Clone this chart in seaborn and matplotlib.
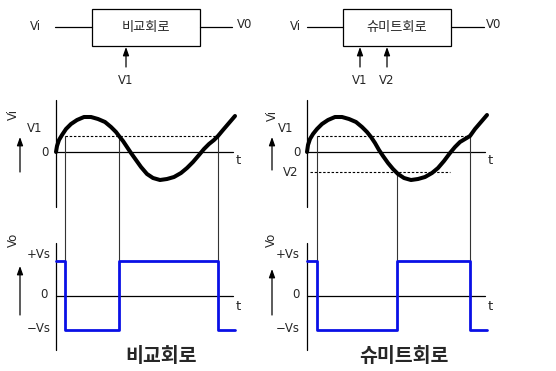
import numpy as np
import matplotlib
matplotlib.use("Agg")
import matplotlib.pyplot as plt
import seaborn as sns

# --- Daten (Pixelkoordinaten, y nach unten) ---
# Eingangssignal Vi, links (Komparator)
vi_left_x = [56, 57, 59, 62, 66, 71, 77, 84, 91, 98, 105, 111, 116, 119, 123, 127, 131, 136,
             141, 147, 153, 160, 167, 174, 181, 187, 193, 199, 204, 209, 214, 218, 223, 229, 235]
vi_left_y = [152, 146, 140, 135, 129, 124, 120, 117, 117, 119, 122, 127, 132, 136, 141, 147, 153, 160,
             167, 174, 178, 180, 179, 177, 173, 168, 162, 155, 149, 144, 140, 136, 130, 123, 116]
# Eingangssignal Vi, rechts (Schmitt-Trigger)
vi_right_x = [307, 308, 310, 313, 317, 322, 328, 335, 342, 349, 356, 362, 367, 371, 375, 379, 383, 388,
              393, 398, 404, 411, 418, 425, 432, 438, 444, 450, 455, 460, 465, 470, 475, 481, 487]
vi_right_y = [152, 145, 139, 134, 129, 124, 120, 117, 117, 119, 122, 127, 132, 137, 143, 150, 156, 163,
              169, 174, 178, 180, 179, 177, 173, 168, 161, 153, 147, 142, 139, 136, 129, 122, 115]

# Ausgang Vo (Rechteck)
vo_left_x = [56, 65, 65, 119, 119, 218, 218, 235]
vo_left_y = [261, 261, 330, 330, 261, 261, 330, 330]
vo_right_x = [307, 317, 317, 397, 397, 470, 470, 487]
vo_right_y = [261, 261, 330, 330, 261, 261, 330, 330]

# Schaltzeitpunkte (x, y_start)
switch_left = [(65, 136), (119, 136), (218, 136)]
switch_right = [(317, 136), (397, 172), (470, 136)]

level_vs_hi = 261
level_v1 = 136
level_v2 = 172

sns.set_style("white")
plt.rcParams['font.family'] = ['DejaVu Sans', 'Noto Sans CJK KR']
KR = ['Noto Sans CJK KR', 'DejaVu Sans']

fig = plt.figure(figsize=(5.56, 3.71), dpi=100)
ax = fig.add_axes([0, 0, 1, 1])

k = "black"
fs = 8.5


def hline(x0, x1, y, **kw):
    ax.plot([x0, x1], [y, y], color=kw.pop("color", k), lw=kw.pop("lw", 0.9), **kw)


def vline(x, y0, y1, **kw):
    ax.plot([x, x], [y0, y1], color=kw.pop("color", k), lw=kw.pop("lw", 0.9), **kw)


def arrow_up(x, y0, y1):
    ax.annotate("", xy=(x, y1), xytext=(x, y0),
                arrowprops=dict(arrowstyle="-|>,head_width=0.18,head_length=0.5",
                                color=k, lw=0.9, shrinkA=0, shrinkB=0))


def block(x0, x1, label, ins):
    ax.add_patch(plt.Rectangle((x0, 9), x1 - x0, 37, fill=False, ec=k, lw=0.9))
    ax.text((x0 + x1) / 2, 28, label, ha="center", va="center", fontsize=9.5,
            fontweight="medium", family=KR)
    for x, t in ins:
        arrow_up(x, 67, 47)
        ax.text(x, 80, t, ha="center", va="center", fontsize=fs)


# Blockschaltbilder
block(92, 200, "비교회로", [(126, "V1")])
hline(55, 92, 27)
hline(200, 232, 27)
ax.text(35, 27, "Vi", ha="center", va="center", fontsize=fs)
ax.text(237, 25, "V0", ha="left", va="center", fontsize=fs)

block(343, 451, "슈미트회로", [(360, "V1"), (387, "V2")])
hline(307, 343, 27)
hline(451, 484, 27)
ax.text(295, 27, "Vi", ha="center", va="center", fontsize=fs)
ax.text(486, 24, "V0", ha="left", va="center", fontsize=fs)

# Achsen der Diagramme
for x0, x1 in [(56, 233), (307, 485)]:
    vline(x0, 100, 207)
    hline(x0, x1, 152)
    vline(x0, 243, 350)
    hline(x0, x1, 296)
    ax.text(x1 + 3, 160, "t", ha="left", va="center", fontsize=fs + 1)
    ax.text(x1 + 3, 307, "t", ha="left", va="center", fontsize=fs + 1)

# Beschriftungen links
ax.text(13, 114, "Vi", rotation=90, ha="center", va="center", fontsize=fs)
arrow_up(20, 172, 137)
ax.text(35, 128, "V1", ha="center", va="center", fontsize=fs)
ax.text(45, 152, "0", ha="center", va="center", fontsize=fs)
ax.text(13, 240, "Vo", rotation=90, ha="center", va="center", fontsize=fs)
arrow_up(20, 315, 266)
ax.text(51, 255, "+Vs", ha="right", va="center", fontsize=fs)
ax.text(44, 295, "0", ha="center", va="center", fontsize=fs)
ax.text(51, 328, "\u2212Vs", ha="right", va="center", fontsize=fs)

# Beschriftungen rechts
ax.text(272, 115, "Vi", rotation=90, ha="center", va="center", fontsize=fs)
arrow_up(272, 170, 137)
ax.text(286, 129, "V1", ha="center", va="center", fontsize=fs)
ax.text(297, 152, "0", ha="center", va="center", fontsize=fs)
ax.text(291, 172, "V2", ha="center", va="center", fontsize=fs)
ax.text(271, 240, "Vo", rotation=90, ha="center", va="center", fontsize=fs)
arrow_up(272, 315, 269)
ax.text(300, 255, "+Vs", ha="right", va="center", fontsize=fs)
ax.text(296, 295, "0", ha="center", va="center", fontsize=fs)
ax.text(300, 328, "\u2212Vs", ha="right", va="center", fontsize=fs)

# Schwellen (gestrichelt)
dash = dict(ls=(0, (2.2, 1.6)), lw=0.8)
hline(65, 218, level_v1, **dash)
hline(317, 470, level_v1, **dash)
hline(310, 450, level_v2, **dash)

# Schaltzeitpunkte
for x, y0 in switch_left + switch_right:
    vline(x, y0, level_vs_hi, lw=0.8, color="#333333")

# Signale
sns.lineplot(x=vi_left_x, y=vi_left_y, sort=False, estimator=None, color=k, lw=2.9, ax=ax)
sns.lineplot(x=vi_right_x, y=vi_right_y, sort=False, estimator=None, color=k, lw=2.9, ax=ax)
sns.lineplot(x=vo_left_x, y=vo_left_y, sort=False, estimator=None, color="#0a10e6", lw=2.0, ax=ax)
sns.lineplot(x=vo_right_x, y=vo_right_y, sort=False, estimator=None, color="#0a10e6", lw=2.0, ax=ax)

ax.set_xlim(0, 556)
ax.set_ylim(371, 0)
ax.axis("off")

# Titel
ax.text(161, 357, "비교회로", ha="center", va="center", fontsize=14, fontweight="bold", family=KR)
ax.text(404, 357, "슈미트회로", ha="center", va="center", fontsize=14, fontweight="bold", family=KR)

fig.savefig("out.png", dpi=100)
